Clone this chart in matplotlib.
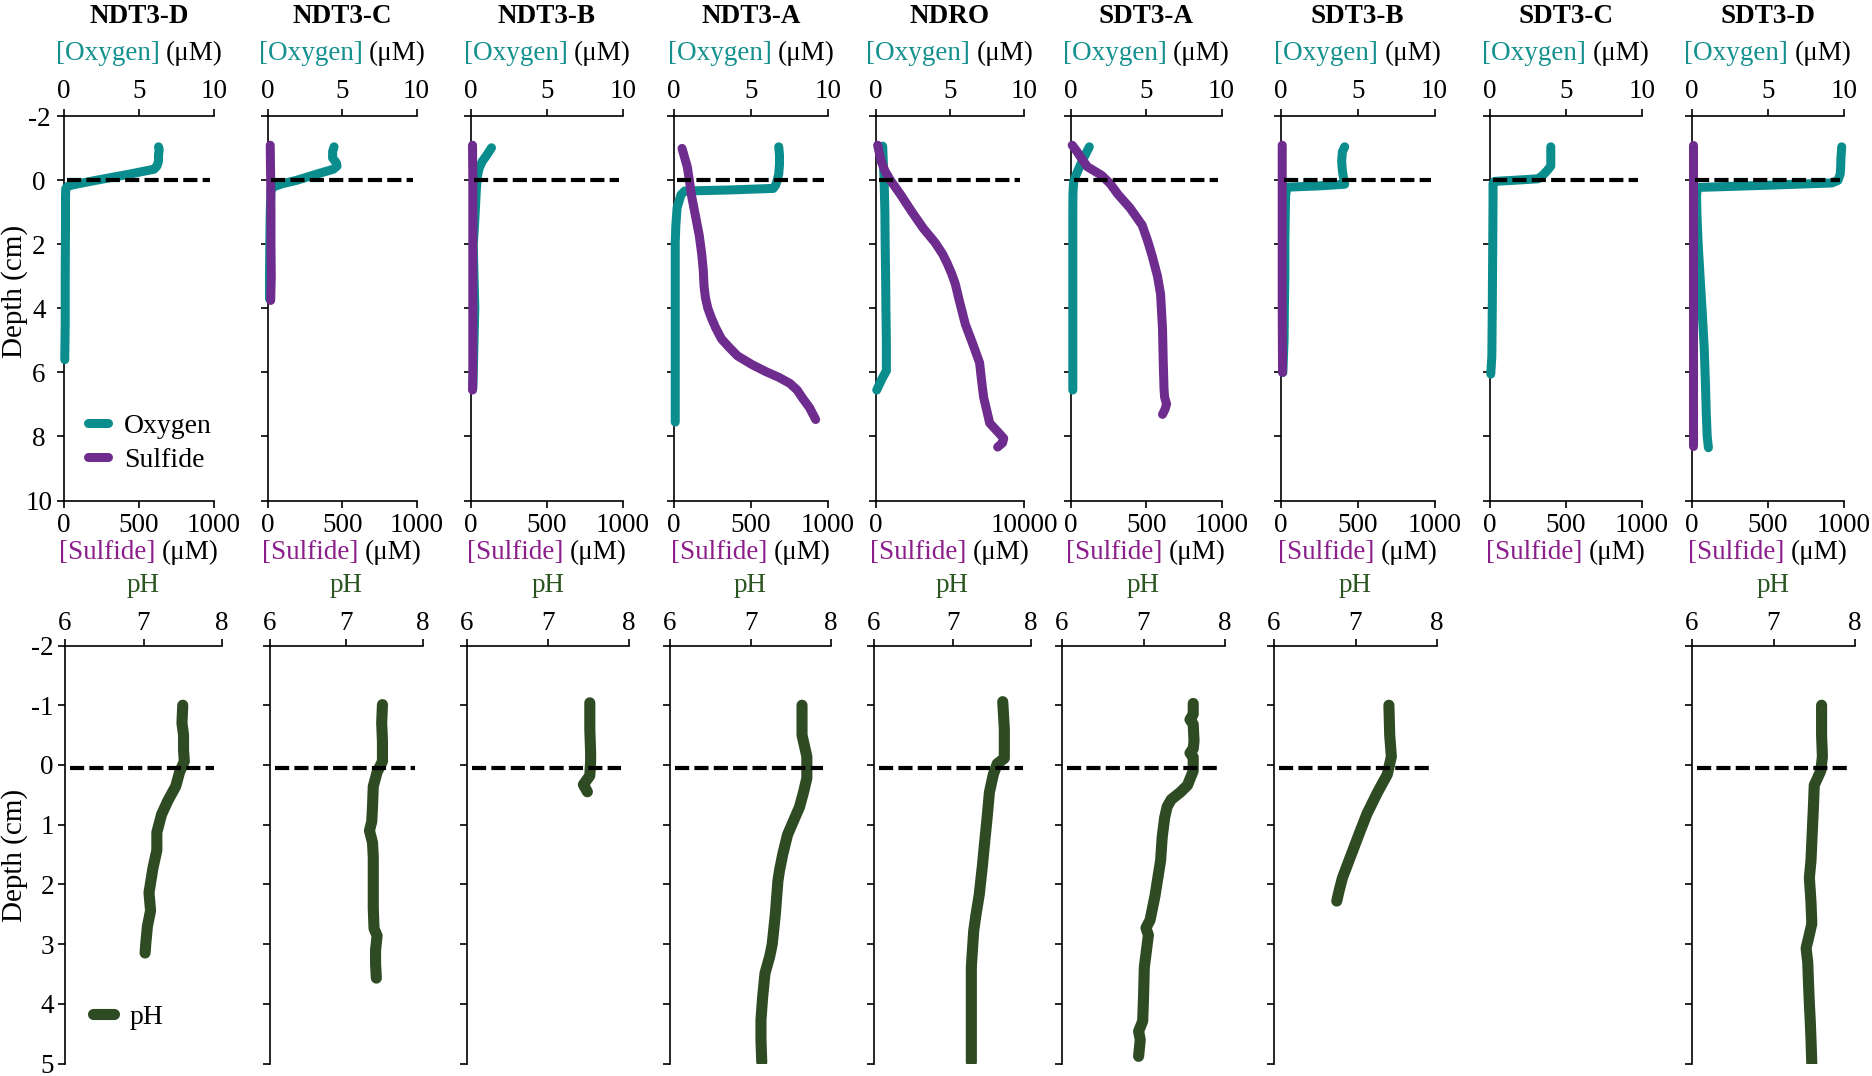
import matplotlib
matplotlib.use("Agg")
import matplotlib.pyplot as plt
from matplotlib.lines import Line2D
from matplotlib.offsetbox import TextArea, HPacker, AnnotationBbox

plt.rcParams['font.family'] = ['Liberation Serif', 'DejaVu Serif']
plt.rcParams['axes.unicode_minus'] = False

# ---------------- data ----------------
SITES = ["NDT3-D", "NDT3-C", "NDT3-B", "NDT3-A", "NDRO",
         "SDT3-A", "SDT3-B", "SDT3-C", "SDT3-D"]

# Oxygen profiles (depth cm, oxygen uM on 0-10 axis)
NDT3D_O2_DEPTH = [-1.05, -0.95, -0.8, -0.6, -0.45, -0.35, -0.2, 0.0, 0.1, 0.17, 0.25, 0.5, 1.5, 3.0, 4.5, 5.6]
NDT3D_O2 = [6.3, 6.35, 6.3, 6.3, 6.2, 6.0, 4.4, 2.1, 1.0, 0.3, 0.12, 0.1, 0.1, 0.08, 0.08, 0.05]
NDT3C_O2_DEPTH = [-1.05, -0.9, -0.7, -0.55, -0.45, -0.35, -0.2, 0.0, 0.1, 0.2, 0.3, 1.0, 2.0, 3.0, 3.7]
NDT3C_O2 = [4.45, 4.35, 4.35, 4.6, 4.65, 4.4, 3.3, 1.9, 1.0, 0.35, 0.2, 0.15, 0.12, 0.1, 0.1]
NDT3B_O2_DEPTH = [-1.02, -0.8, -0.6, -0.4, -0.2, 0.0, 0.3, 0.8, 1.5, 2.0, 3.0, 4.0, 5.0, 6.0, 6.5]
NDT3B_O2 = [1.35, 1.05, 0.75, 0.55, 0.45, 0.4, 0.35, 0.3, 0.22, 0.15, 0.2, 0.25, 0.2, 0.15, 0.12]
NDT3A_O2_DEPTH = [-1.05, -0.8, -0.5, -0.2, 0.0, 0.15, 0.25, 0.3, 0.33, 0.45, 0.86, 1.4, 1.94, 4.0, 6.0, 7.55]
NDT3A_O2 = [6.8, 6.85, 6.85, 6.8, 6.7, 6.6, 6.45, 3.5, 0.7, 0.45, 0.2, 0.12, 0.08, 0.08, 0.08, 0.08]
NDRO_O2_DEPTH = [-1.07, -0.5, 0.0, 1.0, 2.0, 3.0, 4.0, 5.0, 5.95, 6.2, 6.55]
NDRO_O2 = [0.45, 0.5, 0.55, 0.6, 0.62, 0.65, 0.67, 0.7, 0.7, 0.4, 0.05]
SDT3A_O2_DEPTH = [-1.05, -0.8, -0.54, -0.3, 0.0, 0.2, 0.43, 1.0, 3.0, 5.0, 6.55]
SDT3A_O2 = [1.22, 0.95, 0.68, 0.45, 0.19, 0.15, 0.13, 0.12, 0.12, 0.12, 0.12]
SDT3B_O2_DEPTH = [-1.05, -0.9, -0.6, -0.3, 0.0, 0.12, 0.17, 0.21, 0.3, 0.5, 1.0, 2.0, 3.0, 4.0, 5.0, 6.0]
SDT3B_O2 = [4.15, 4.0, 3.95, 4.0, 4.1, 4.15, 2.5, 0.45, 0.35, 0.3, 0.28, 0.25, 0.25, 0.22, 0.2, 0.12]
SDT3C_O2_DEPTH = [-1.05, -0.8, -0.45, -0.3, -0.15, -0.05, -0.01, 0.03, 0.1, 0.5, 2.0, 4.0, 5.5, 6.05]
SDT3C_O2 = [4.0, 4.0, 4.0, 3.75, 3.45, 3.15, 1.8, 0.3, 0.2, 0.2, 0.18, 0.15, 0.12, 0.05]
SDT3D_O2_DEPTH = [-1.05, -0.7, -0.4, -0.2, 0.0, 0.08, 0.15, 0.22, 0.5, 1.0, 1.94, 3.0, 4.1, 5.2, 6.3, 7.3, 8.0, 8.35]
SDT3D_O2 = [9.85, 9.8, 9.78, 9.75, 9.6, 9.2, 5.0, 0.35, 0.3, 0.32, 0.4, 0.53, 0.67, 0.8, 0.88, 0.94, 1.0, 1.08]

# Sulfide profiles (depth cm, sulfide uM)
NDT3C_H2S_DEPTH = [-1.1, 0.0, 1.0, 2.0, 3.0, 3.75]
NDT3C_H2S = [15, 18, 20, 20, 22, 18]
NDT3B_H2S_DEPTH = [-1.1, 0.0, 2.0, 4.0, 6.0, 6.55]
NDT3B_H2S = [10, 12, 12, 12, 12, 10]
NDT3A_H2S_DEPTH = [-1.0, -0.43, 0.0, 0.43, 1.0, 1.72, 2.3, 2.8, 3.3, 3.66, 4.0, 4.3, 4.6, 4.95,
                   5.2, 5.48, 5.75, 5.97, 6.15, 6.34, 6.55, 6.77, 7.1, 7.47]
NDT3A_H2S = [52, 86, 100, 112, 135, 164, 180, 190, 195, 204, 220, 243, 270, 308,
             355, 412, 505, 595, 680, 752, 800, 830, 880, 920]
NDRO_H2S_DEPTH = [-1.1, -0.6, -0.3, 0.0, 0.43, 1.0, 1.5, 1.94, 2.3, 2.58, 2.9, 3.23, 3.76, 4.5,
                  5.16, 5.7, 6.24, 6.77, 7.3, 7.58, 7.85, 8.06, 8.2, 8.33]
NDRO_H2S = [110, 350, 600, 980, 1640, 2450, 3200, 3990, 4500, 4800, 5100, 5355, 5630, 6040,
            6580, 7000, 7130, 7270, 7540, 7680, 8220, 8630, 8550, 8220]
SDT3A_H2S_DEPTH = [-1.1, -0.9, -0.7, -0.43, -0.16, 0.1, 0.43, 0.86, 1.4, 1.9, 2.37, 3.0, 3.55,
                   4.62, 5.7, 6.5, 6.77, 6.99, 7.15, 7.31]
SDT3A_H2S = [8, 40, 68, 108, 203, 260, 311, 392, 473, 510, 540, 575, 595,
             608, 613, 618, 622, 635, 625, 608]
SDT3B_H2S_DEPTH = [-1.1, 0.0, 2.0, 4.0, 6.0]
SDT3B_H2S = [8, 8, 8, 8, 10]
SDT3D_H2S_DEPTH = [-1.1, 0.0, 2.0, 4.0, 6.0, 8.3]
SDT3D_H2S = [4, 4, 4, 4, 4, 4]

# pH profiles (depth cm, pH)
PH_SITES = ["NDT3-D", "NDT3-C", "NDT3-B", "NDT3-A", "NDRO", "SDT3-A", "SDT3-B", "SDT3-D"]
NDT3D_PH_DEPTH = [-1.0, -0.7, -0.5, -0.25, -0.06, 0.12, 0.36, 0.6, 0.83, 1.13, 1.43, 1.73, 2.14, 2.44, 2.7, 2.98, 3.15]
NDT3D_PH = [7.50, 7.49, 7.51, 7.51, 7.52, 7.46, 7.41, 7.31, 7.23, 7.17, 7.17, 7.12, 7.07, 7.09, 7.05, 7.03, 7.02]
NDT3C_PH_DEPTH = [-1.01, -0.7, -0.4, -0.06, 0.12, 0.36, 0.7, 0.95, 1.1, 1.3, 1.55, 2.0, 2.4, 2.74, 2.86, 3.1, 3.33, 3.57]
NDT3C_PH = [7.47, 7.46, 7.47, 7.47, 7.40, 7.35, 7.34, 7.33, 7.30, 7.34, 7.35, 7.35, 7.35, 7.36, 7.40, 7.38, 7.38, 7.39]
NDT3B_PH_DEPTH = [-1.04, -0.6, -0.2, -0.06, 0.18, 0.33, 0.45]
NDT3B_PH = [7.52, 7.52, 7.53, 7.53, 7.52, 7.44, 7.49]
NDT3A_PH_DEPTH = [-1.0, -0.5, -0.14, 0.22, 0.45, 0.7, 0.95, 1.17, 1.5, 1.77, 1.95, 2.48, 3.0, 3.2,
                  3.49, 3.9, 4.27, 4.6, 4.98]
NDT3A_PH = [7.64, 7.64, 7.70, 7.70, 7.66, 7.61, 7.53, 7.46, 7.40, 7.36, 7.34, 7.31, 7.27, 7.24,
            7.18, 7.15, 7.13, 7.13, 7.14]
NDRO_PH_DEPTH = [-1.06, -0.61, -0.11, -0.02, 0.16, 0.46, 0.9, 1.29, 1.7, 2.18, 2.5, 2.78, 3.38, 4.0, 4.5, 4.98]
NDRO_PH = [7.64, 7.66, 7.66, 7.57, 7.52, 7.47, 7.44, 7.41, 7.38, 7.34, 7.30, 7.27, 7.24, 7.24, 7.24, 7.24]
SDT3A_PH_DEPTH = [-1.03, -0.85, -0.76, -0.68, -0.4, -0.27, -0.2, -0.13, 0.1, 0.34, 0.46, 0.58, 0.7, 0.88,
                  1.2, 1.6, 2.2, 2.6, 2.73, 2.85, 3.39, 3.9, 4.29, 4.46, 4.6, 4.88]
SDT3A_PH = [7.61, 7.61, 7.57, 7.61, 7.62, 7.61, 7.57, 7.61, 7.61, 7.54, 7.45, 7.34, 7.29, 7.26,
            7.23, 7.21, 7.14, 7.08, 7.03, 7.06, 7.01, 7.00, 6.99, 6.94, 6.96, 6.94]
SDT3B_PH_DEPTH = [-1.0, -0.49, -0.14, 0.16, 0.46, 0.82, 1.17, 1.53, 1.89, 2.1, 2.28]
SDT3B_PH = [7.41, 7.42, 7.44, 7.39, 7.27, 7.14, 7.04, 6.94, 6.84, 6.80, 6.77]
SDT3D_PH_DEPTH = [-1.0, -0.5, -0.14, 0.1, 0.34, 0.7, 1.29, 1.6, 1.89, 2.3, 2.66, 2.9, 3.07, 3.3,
                  3.67, 4.0, 4.26, 4.6, 5.0]
SDT3D_PH = [7.59, 7.59, 7.60, 7.58, 7.50, 7.49, 7.47, 7.46, 7.44, 7.46, 7.47, 7.43, 7.40, 7.42,
            7.43, 7.44, 7.45, 7.46, 7.47]

O2_DEPTHS = [NDT3D_O2_DEPTH, NDT3C_O2_DEPTH, NDT3B_O2_DEPTH, NDT3A_O2_DEPTH, NDRO_O2_DEPTH,
             SDT3A_O2_DEPTH, SDT3B_O2_DEPTH, SDT3C_O2_DEPTH, SDT3D_O2_DEPTH]
O2_VALUES = [NDT3D_O2, NDT3C_O2, NDT3B_O2, NDT3A_O2, NDRO_O2, SDT3A_O2, SDT3B_O2, SDT3C_O2, SDT3D_O2]
H2S_DEPTHS = [None, NDT3C_H2S_DEPTH, NDT3B_H2S_DEPTH, NDT3A_H2S_DEPTH, NDRO_H2S_DEPTH,
              SDT3A_H2S_DEPTH, SDT3B_H2S_DEPTH, None, SDT3D_H2S_DEPTH]
H2S_VALUES = [None, NDT3C_H2S, NDT3B_H2S, NDT3A_H2S, NDRO_H2S, SDT3A_H2S, SDT3B_H2S, None, SDT3D_H2S]
H2S_MAX = [1000, 1000, 1000, 1000, 10000, 1000, 1000, 1000, 1000]
H2S_TICKS = [[0, 500, 1000]] * 4 + [[0, 10000]] + [[0, 500, 1000]] * 4
O2_TICKS = [0, 5, 10]
PH_TICKS = [6, 7, 8]
PH_DEPTHS = [NDT3D_PH_DEPTH, NDT3C_PH_DEPTH, NDT3B_PH_DEPTH, NDT3A_PH_DEPTH, NDRO_PH_DEPTH,
             SDT3A_PH_DEPTH, SDT3B_PH_DEPTH, SDT3D_PH_DEPTH]
PH_VALUES = [NDT3D_PH, NDT3C_PH, NDT3B_PH, NDT3A_PH, NDRO_PH, SDT3A_PH, SDT3B_PH, SDT3D_PH]

# ---------------- layout / style ----------------
FIG_W, FIG_H = 1872, 1076
TOP_L = [64, 268, 471, 674, 876, 1071, 1281, 1490, 1692]
TOP_R = [214, 416.5, 623, 828, 1024, 1221.5, 1434.5, 1642, 1844]
BOT_L = [65, 270, 467, 670, 874, 1062, 1274, 1692]
BOT_R = [222, 423, 628.6, 831, 1031, 1225, 1437, 1855]
TOP_Y0, TOP_Y1 = 116.4, 500.5
BOT_Y0, BOT_Y1 = 645.5, 1063.5

TEAL = '#0C8D8D'
PURPLE = '#6E2C8E'
GREEN = '#2F4B23'
TEAL_TXT = '#14918F'
PURPLE_TXT = '#8B1E8B'
GREEN_TXT = '#2B5520'
FS = 19.5
TICK_LEN = 5
LW_AX = 1.2
DASH_LW = 3.0
DASH = (0, (3.4, 1.25))


def rect(l, r, top, bot):
    return [l / FIG_W, 1 - bot / FIG_H, (r - l) / FIG_W, (bot - top) / FIG_H]


def two_color(ax, y, yoff, word, color):
    t1 = TextArea(word, textprops=dict(color=color, fontsize=FS))
    t2 = TextArea("(\u03bcM)", textprops=dict(color='black', fontsize=FS))
    box = HPacker(children=[t1, t2], align='baseline', pad=0, sep=4.5)
    ab = AnnotationBbox(box, (0.5, y), xycoords='axes fraction', xybox=(0, yoff),
                        boxcoords='offset points', box_alignment=(0.5, 0), frameon=False,
                        pad=0, annotation_clip=False)
    ax.add_artist(ab)


fig = plt.figure(figsize=(FIG_W / 100, FIG_H / 100), dpi=100)

# ---------------- top row: oxygen + sulfide ----------------
for i, site in enumerate(SITES):
    ax = fig.add_axes(rect(TOP_L[i], TOP_R[i], TOP_Y0, TOP_Y1))
    ax2 = ax.twiny()
    ax.set_xlim(0, 10)
    ax.set_ylim(10, -2)
    ax2.set_xlim(0, H2S_MAX[i])
    ax.xaxis.tick_top()
    ax2.xaxis.tick_bottom()
    for s in ['right', 'bottom']:
        ax.spines[s].set_visible(False)
    for s in ['right', 'top', 'left']:
        ax2.spines[s].set_visible(False)
    for s in ax.spines.values():
        s.set_linewidth(LW_AX)
    ax2.spines['bottom'].set_linewidth(LW_AX)
    ax.set_xticks(O2_TICKS)
    ax.set_yticks(list(range(-2, 11, 2)))
    ax2.set_xticks(H2S_TICKS[i])
    ax.tick_params(axis='x', top=True, labeltop=True, bottom=False, labelbottom=False,
                   length=TICK_LEN, width=LW_AX, pad=4, labelsize=FS, direction='out')
    ax.tick_params(axis='y', length=TICK_LEN, width=LW_AX, pad=13, labelsize=FS,
                   direction='out', labelleft=(i == 0))
    ax2.tick_params(axis='x', bottom=True, labelbottom=True, top=False, labeltop=False,
                    length=TICK_LEN, width=LW_AX, pad=4, labelsize=FS, direction='out')
    if i == 0:
        for t in ax.get_yticklabels():
            t.set_horizontalalignment('center')

    ax.plot(O2_VALUES[i], O2_DEPTHS[i], color=TEAL, lw=6.5, solid_capstyle='round',
            solid_joinstyle='round', clip_on=False, zorder=3)
    if H2S_VALUES[i] is not None:
        ax2.plot(H2S_VALUES[i], H2S_DEPTHS[i], color=PURPLE, lw=6.5, solid_capstyle='round',
                 solid_joinstyle='round', clip_on=False, zorder=3)
    ax2.axhline(0, xmin=0.02, xmax=0.975, color='black', lw=DASH_LW, ls=DASH, zorder=6)

    ax.annotate(site, (0.5, 1), xycoords='axes fraction', xytext=(0, 67),
                textcoords='offset points', ha='center', va='baseline', fontsize=FS,
                fontweight='bold', annotation_clip=False)
    two_color(ax, 1, 36.2, "[Oxygen]", TEAL_TXT)
    two_color(ax, 0, -46.2, "[Sulfide]", PURPLE_TXT)

    if i == 0:
        handles = [Line2D([], [], color=TEAL, lw=6.5, solid_capstyle='round'),
                   Line2D([], [], color=PURPLE, lw=6.5, solid_capstyle='round')]
        ax2.legend(handles, ['Oxygen', 'Sulfide'], loc='upper left', bbox_to_anchor=(0.157, 0.226),
                   frameon=False, fontsize=20, handlelength=0.75, handletextpad=0.55,
                   labelspacing=0.3, borderpad=0, borderaxespad=0)

# ---------------- bottom row: pH ----------------
for j, site in enumerate(PH_SITES):
    ax = fig.add_axes(rect(BOT_L[j], BOT_R[j], BOT_Y0, BOT_Y1))
    ax.set_xlim(6, 8)
    ax.set_ylim(5, -2)
    ax.xaxis.tick_top()
    for s in ['right', 'bottom']:
        ax.spines[s].set_visible(False)
    for s in ax.spines.values():
        s.set_linewidth(LW_AX)
    ax.set_xticks(PH_TICKS)
    ax.set_yticks(list(range(-2, 6)))
    ax.tick_params(axis='x', top=True, labeltop=True, bottom=False, labelbottom=False,
                   length=TICK_LEN, width=LW_AX, pad=1.5, labelsize=FS, direction='out')
    ax.tick_params(axis='y', length=TICK_LEN, width=LW_AX, pad=3, labelsize=FS,
                   direction='out', labelleft=(j == 0))
    ax.plot(PH_VALUES[j], PH_DEPTHS[j], color=GREEN, lw=8, solid_capstyle='round',
            solid_joinstyle='round', zorder=3)
    ax.axhline(0.05, xmin=0.03, xmax=0.95, color='black', lw=DASH_LW, ls=DASH, zorder=6)
    ax.annotate('pH', (0.5, 1), xycoords='axes fraction', xytext=(0, 38.7),
                textcoords='offset points', ha='center', va='baseline', fontsize=FS,
                color=GREEN_TXT, annotation_clip=False)
    if j == 0:
        ax.legend([Line2D([], [], color=GREEN, lw=8, solid_capstyle='round')], ['pH'],
                  loc='upper left', bbox_to_anchor=(0.18, 0.142), frameon=False, fontsize=20,
                  handlelength=0.75, handletextpad=0.55, borderpad=0, borderaxespad=0)

fig.text(15 / FIG_W, 1 - 291 / FIG_H, 'Depth (cm)', rotation=90, ha='center', va='center', fontsize=21)
fig.text(15 / FIG_W, 1 - 855 / FIG_H, 'Depth (cm)', rotation=90, ha='center', va='center', fontsize=21)

fig.savefig('out.png', dpi=100)
